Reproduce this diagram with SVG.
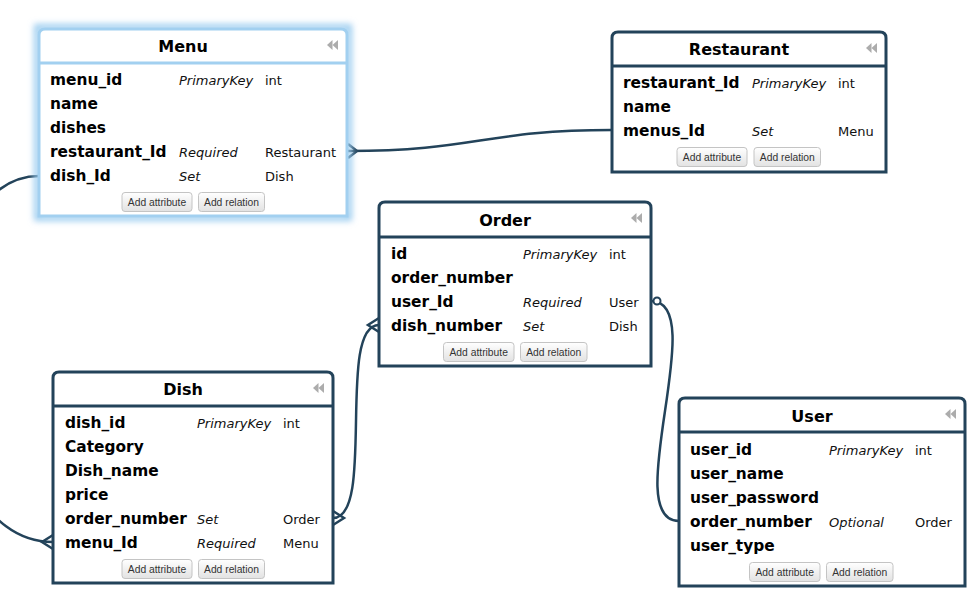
<svg xmlns="http://www.w3.org/2000/svg" width="974" height="611" viewBox="0 0 974 611">
<defs>
<linearGradient id="btn" x1="0" y1="0" x2="0" y2="1">
<stop offset="0" stop-color="#ffffff"/>
<stop offset="1" stop-color="#e2e2e2"/>
</linearGradient>
<filter id="glow" x="-10%" y="-10%" width="120%" height="120%">
<feGaussianBlur stdDeviation="3"/>
</filter>
<g id="icon">
<polygon points="5.5,0 5.5,10 0,5" />
<polygon points="11,0 11,10 5.5,5" />
</g>
</defs>
<style>
.box{fill:#ffffff;stroke:#23435a;stroke-width:3}
.sel{fill:#ffffff;stroke:#a2d0f0;stroke-width:3}
.sep{stroke:#23435a;stroke-width:3}
.selsep{stroke:#a2d0f0;stroke-width:3}
.title{font-family:"DejaVu Sans",Verdana,sans-serif;font-weight:bold;font-size:16px;fill:#000;text-anchor:middle}
.nm{font-family:"DejaVu Sans",Verdana,sans-serif;font-weight:bold;font-size:15.4px;fill:#000}
.it{font-family:"DejaVu Sans",Verdana,sans-serif;font-style:italic;font-size:13px;fill:#111}
.ty{font-family:"DejaVu Sans",Verdana,sans-serif;font-size:13px;fill:#111}
.btn{fill:url(#btn);stroke:#c4c4c4;stroke-width:1}
.bt{font-family:"Liberation Sans",Arial,sans-serif;font-size:10.3px;fill:#333;text-anchor:middle}
.ico{fill:#acacac}
.con{fill:none;stroke:#23435a;stroke-width:2.5}
</style>

<g id="connectors">
<path class="con" d="M348,151 C475,151 485,130 612,130"/>
<path class="con" d="M348,144 L357,151 L348,158"/>
<path class="con" d="M39,176 C-90,176 -90,542 53,542"/>
<path class="con" d="M53,535 L42,542 L53,549"/>
<path class="con" d="M379,325 C336,325 376,518 333,518"/>
<path class="con" d="M379,318 L368,325 L379,332"/>
<path class="con" d="M333,511 L344,518 L333,525"/>
<path class="con" d="M651,301 C712,301 618,521 679,521"/>
<circle cx="657" cy="301" r="3.5" fill="#ffffff" stroke="#23435a" stroke-width="2"/>
</g>

<g id="Menu">
<rect x="37" y="27" width="312" height="191" fill="none" stroke="#9ccdf0" stroke-width="6" filter="url(#glow)"/>
<path class="sel" d="M39,216 V35 Q39,29 45,29 H341 Q347,29 347,35 V216 Z"/>
<line class="selsep" x1="39" y1="63" x2="347" y2="63"/>
<text class="title" x="183" y="52">Menu</text>
<use href="#icon" class="ico" x="327" y="40"/>
<text class="nm" x="50" y="85">menu_id</text>
<text class="it" x="179" y="85">PrimaryKey</text>
<text class="ty" x="265" y="85">int</text>
<text class="nm" x="50" y="109">name</text>
<text class="nm" x="50" y="133">dishes</text>
<text class="nm" x="50" y="157">restaurant_Id</text>
<text class="it" x="179" y="157">Required</text>
<text class="ty" x="265" y="157">Restaurant</text>
<text class="nm" x="50" y="181">dish_Id</text>
<text class="it" x="179" y="181">Set</text>
<text class="ty" x="265" y="181">Dish</text>
<rect class="btn" x="122" y="192.5" width="70" height="19" rx="3"/>
<text class="bt" x="157" y="205.5">Add attribute</text>
<rect class="btn" x="198.5" y="192.5" width="66" height="19" rx="3"/>
<text class="bt" x="231.5" y="205.5">Add relation</text>
</g>

<g id="Restaurant">
<path class="box" d="M612,172 V38 Q612,32 618,32 H880 Q886,32 886,38 V172 Z"/>
<line class="sep" x1="612" y1="66" x2="886" y2="66"/>
<text class="title" x="739" y="55">Restaurant</text>
<use href="#icon" class="ico" x="866" y="43"/>
<text class="nm" x="623" y="88">restaurant_Id</text>
<text class="it" x="752" y="88">PrimaryKey</text>
<text class="ty" x="838" y="88">int</text>
<text class="nm" x="623" y="112">name</text>
<text class="nm" x="623" y="136">menus_Id</text>
<text class="it" x="752" y="136">Set</text>
<text class="ty" x="838" y="136">Menu</text>
<rect class="btn" x="677" y="147.5" width="70" height="19" rx="3"/>
<text class="bt" x="712" y="160.5">Add attribute</text>
<rect class="btn" x="754" y="147.5" width="66.5" height="19" rx="3"/>
<text class="bt" x="787.3" y="160.5">Add relation</text>
</g>

<g id="Order">
<path class="box" d="M379,366 V208 Q379,202 385,202 H645 Q651,202 651,208 V366 Z"/>
<line class="sep" x1="379" y1="237" x2="651" y2="237"/>
<text class="title" x="505" y="226">Order</text>
<use href="#icon" class="ico" x="631" y="213"/>
<text class="nm" x="391" y="259">id</text>
<text class="it" x="523" y="259">PrimaryKey</text>
<text class="ty" x="609" y="259">int</text>
<text class="nm" x="391" y="283">order_number</text>
<text class="nm" x="391" y="307">user_Id</text>
<text class="it" x="523" y="307">Required</text>
<text class="ty" x="609" y="307">User</text>
<text class="nm" x="391" y="331">dish_number</text>
<text class="it" x="523" y="331">Set</text>
<text class="ty" x="609" y="331">Dish</text>
<rect class="btn" x="443.5" y="342.5" width="70.5" height="19" rx="3"/>
<text class="bt" x="478.7" y="355.5">Add attribute</text>
<rect class="btn" x="520.5" y="342.5" width="66.5" height="19" rx="3"/>
<text class="bt" x="553.7" y="355.5">Add relation</text>
</g>

<g id="Dish">
<path class="box" d="M53,583 V378 Q53,372 59,372 H327 Q333,372 333,378 V583 Z"/>
<line class="sep" x1="53" y1="406" x2="333" y2="406"/>
<text class="title" x="183" y="395">Dish</text>
<use href="#icon" class="ico" x="313" y="383"/>
<text class="nm" x="65" y="428">dish_id</text>
<text class="it" x="197" y="428">PrimaryKey</text>
<text class="ty" x="283" y="428">int</text>
<text class="nm" x="65" y="452">Category</text>
<text class="nm" x="65" y="476">Dish_name</text>
<text class="nm" x="65" y="500">price</text>
<text class="nm" x="65" y="524">order_number</text>
<text class="it" x="197" y="524">Set</text>
<text class="ty" x="283" y="524">Order</text>
<text class="nm" x="65" y="548">menu_Id</text>
<text class="it" x="197" y="548">Required</text>
<text class="ty" x="283" y="548">Menu</text>
<rect class="btn" x="122" y="559.5" width="70" height="19" rx="3"/>
<text class="bt" x="157" y="572.5">Add attribute</text>
<rect class="btn" x="198.5" y="559.5" width="66" height="19" rx="3"/>
<text class="bt" x="231.5" y="572.5">Add relation</text>
</g>

<g id="User">
<path class="box" d="M679,586 V404 Q679,398 685,398 H959 Q965,398 965,404 V586 Z"/>
<line class="sep" x1="679" y1="432" x2="965" y2="432"/>
<text class="title" x="812" y="422">User</text>
<use href="#icon" class="ico" x="945" y="409"/>
<text class="nm" x="690" y="455">user_id</text>
<text class="it" x="829" y="455">PrimaryKey</text>
<text class="ty" x="915" y="455">int</text>
<text class="nm" x="690" y="479">user_name</text>
<text class="nm" x="690" y="503">user_password</text>
<text class="nm" x="690" y="527">order_number</text>
<text class="it" x="829" y="527">Optional</text>
<text class="ty" x="915" y="527">Order</text>
<text class="nm" x="690" y="551">user_type</text>
<rect class="btn" x="749.5" y="562.5" width="70.5" height="19" rx="3"/>
<text class="bt" x="784.7" y="575.5">Add attribute</text>
<rect class="btn" x="826.5" y="562.5" width="66.5" height="19" rx="3"/>
<text class="bt" x="859.7" y="575.5">Add relation</text>
</g>
</svg>
